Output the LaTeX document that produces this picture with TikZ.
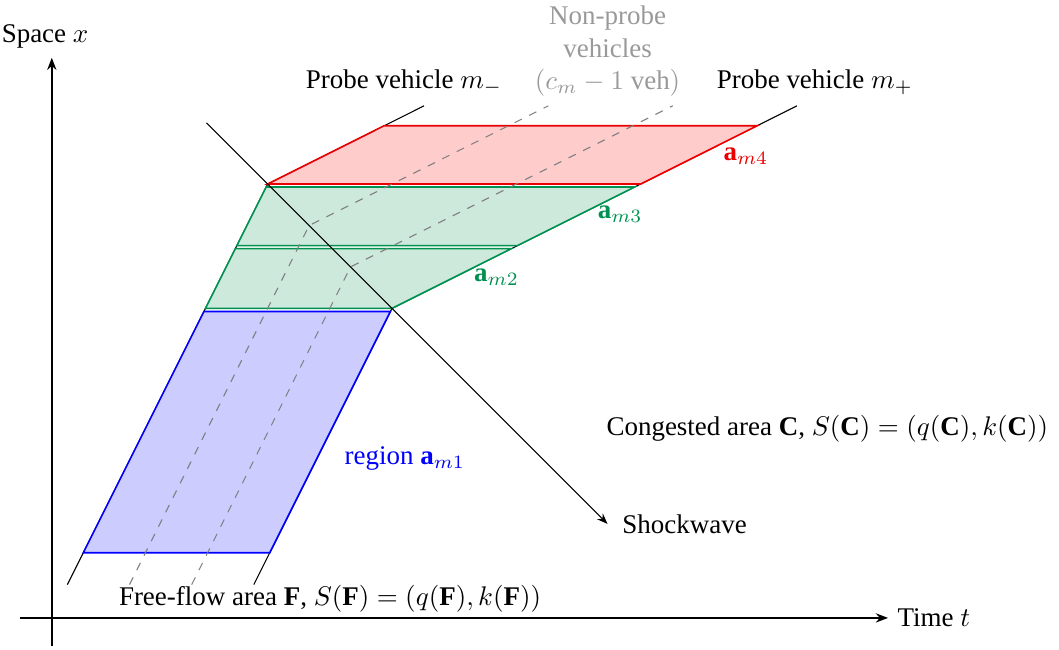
\documentclass[tikz,border=0pt]{standalone}
\usepackage{amsmath}
\usepackage{fontspec}
\setmainfont{Liberation Serif}
\usepackage{xcolor}
\usepackage{tikz}
\usetikzlibrary{arrows.meta,positioning,calc}
\definecolor{regblue}{RGB}{0,0,255}
\definecolor{reggreen}{RGB}{0,145,80}
\definecolor{regred}{RGB}{235,0,0}
\tikzset{
  axis/.style={line width=0.8pt, -{Stealth[length=4.5pt, width=3.4pt]}},
  probe/.style={thin},
  nonprobe/.style={thin, dashed, gray},
  shock/.style={thin, -{Stealth[length=4pt, width=3pt]}},
  region/.style={line width=0.6pt},
  lbl/.style={inner sep=2pt}
}

\begin{document}
\begin{tikzpicture}[scale=0.964]
\useasboundingbox (-0.70,-0.42) rectangle (13.61,8.35);

% axes
\coordinate (t0) at (-0.43,0);
\coordinate (t1) at (11.30,0);
\coordinate (x0) at (0,-0.38);
\coordinate (x1) at (0,7.57);
\draw[axis] (t0) -- (t1);
\draw[axis] (x0) -- (x1);
\node[right] (tlab) at (t1) {Time \(t\)};
\node[above, xshift=-2.5pt] (xlab) at (x1) {Space \(x\)};

% probe vehicles m- and m+
\coordinate (ms) at (0.21,0.45);
\coordinate (mk) at (2.917,5.863);
\coordinate (me) at (5.03,6.92);
\coordinate (ps) at (2.73,0.45);
\coordinate (pk) at (4.597,4.183);
\coordinate (pe) at (10.07,6.92);
\draw[probe] (ms) -- (mk) -- (me);
\draw[probe] (ps) -- (pk) -- (pe);

% regions a_m1 ... a_m4
\filldraw[region, regblue, fill=blue!20] (0.425,0.88) -- (2.945,0.88) -- (4.575,4.14) -- (2.055,4.14) -- cycle;
\filldraw[region, reggreen, fill=reggreen!20] (2.077,4.183) -- (pk) -- (6.21,4.99) -- (2.48,4.99) -- cycle;
\filldraw[region, reggreen, fill=reggreen!20] (2.50,5.03) -- (6.29,5.03) -- (7.876,5.823) -- (2.897,5.823) -- cycle;
\filldraw[region, regred, fill=red!20] (mk) -- (7.957,5.863) -- (9.53,6.65) -- (4.49,6.65) -- cycle;

% non-probe vehicles
\foreach \xs/\xk/\yk/\xe in {1.05/3.477/5.303/6.71, 1.89/4.037/4.743/8.39}
  \draw[nonprobe] (\xs,0.45) -- (\xk,\yk) -- (\xe,6.92);

% shockwave
\coordinate (sw0) at (2.09,6.69);
\coordinate (sw1) at (7.51,1.27);
\draw[shock] (sw0) -- (sw1);
\node[right=2pt of sw1] (swlab) {Shockwave};

% labels
\node (mlab) at (4.76,7.24) {Probe vehicle \(m_-\)};
\node (plab) at (10.31,7.24) {Probe vehicle \(m_+\)};
\node[align=center, text=black!40] (nplab) at (7.51,7.66) {Non-probe\\vehicles\\\((c_m-1\ \text{veh})\)};
\node[lbl, text=regred] (a4) at (9.38,6.24) {\(\mathbf{a}_{m4}\)};
\node[lbl, text=reggreen] (a3) at (7.68,5.46) {\(\mathbf{a}_{m3}\)};
\node[lbl, text=reggreen] (a2) at (6.01,4.61) {\(\mathbf{a}_{m2}\)};
\node[lbl, text=regblue] (a1) at (4.77,2.15) {region \(\mathbf{a}_{m1}\)};
\node (clab) at (10.48,2.56) {Congested area \(\mathbf{C}\), \(S(\mathbf{C})=(q(\mathbf{C}),k(\mathbf{C}))\)};
\node (flab) at (3.76,0.26) {Free-flow area \(\mathbf{F}\), \(S(\mathbf{F})=(q(\mathbf{F}),k(\mathbf{F}))\)};
\end{tikzpicture}
\end{document}
